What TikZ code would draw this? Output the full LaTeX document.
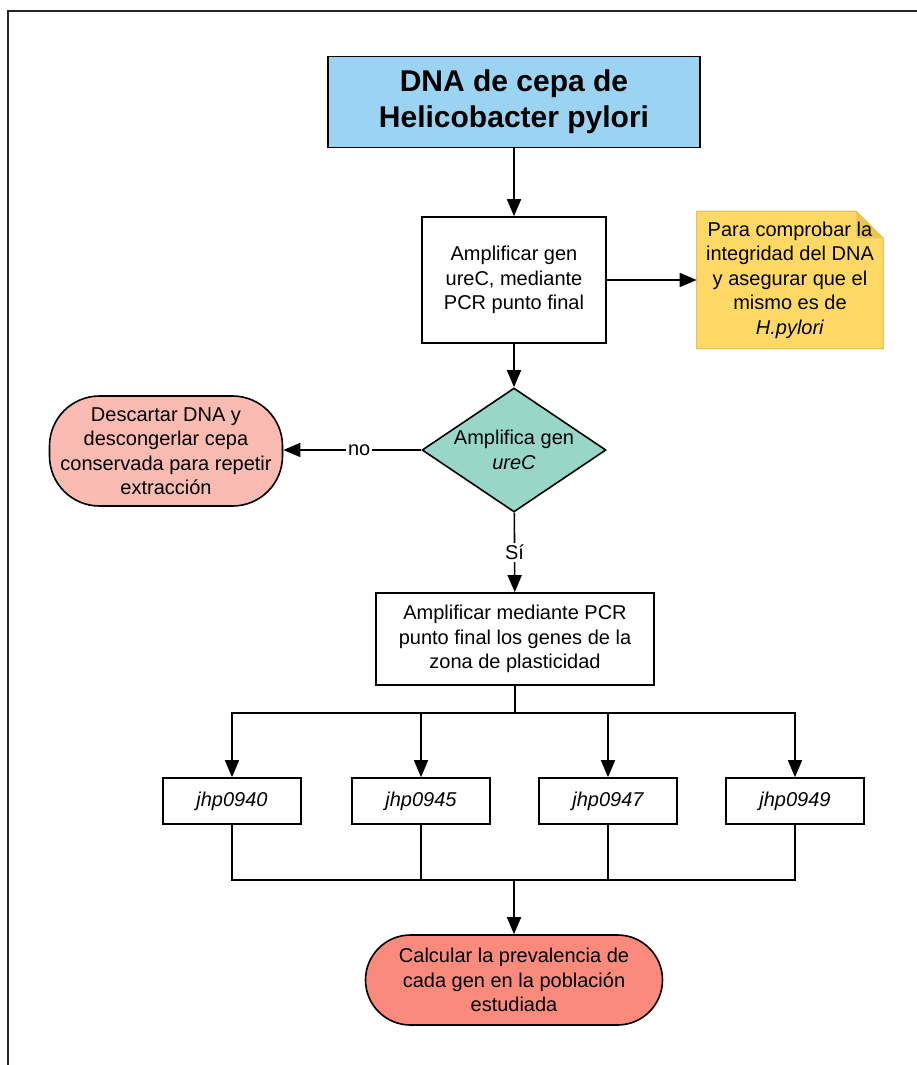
\documentclass[tikz,border=0pt]{standalone}
\usepackage{fontspec}
\setmainfont{Liberation Sans}
\usetikzlibrary{
arrows.meta,
shapes,
backgrounds,
calc
}
\definecolor{titleblue}{RGB}{155,211,242}
\definecolor{noteyellow}{RGB}{255,217,102}
\definecolor{noteline}{RGB}{228,196,98}
\definecolor{notefold}{RGB}{235,196,86}
\definecolor{decteal}{RGB}{152,214,199}
\definecolor{redolight}{RGB}{249,187,178}
\definecolor{redodark}{RGB}{250,138,124}

\begin{document}
\begin{tikzpicture}[
    x=1pt, y=-1pt,
    line width=1.6pt,
    >={Triangle[length=17pt,width=14pt]},
    every node/.style={font=\fontsize{20}{24.5}\selectfont, align=center},
    box/.style={draw, fill=white, inner sep=0pt},
    term/.style={draw, rectangle, inner sep=0pt},
    gene/.style={box, minimum width=138, minimum height=46, font=\fontsize{20}{24.5}\selectfont\itshape},
    lbl/.style={midway, fill=white, inner sep=2pt}
  ]
  \useasboundingbox (0,0) rectangle (917,1065);
  % page frame
  \draw[line width=2.2pt, black!85] (8,1065) -- (8,11) -- (917,11);

  \node[box, fill=titleblue, minimum width=372, minimum height=91,
    font=\fontsize{30}{36}\selectfont\bfseries] (dna) at (514,102)
    {DNA de cepa de\\Helicobacter pylori};
  \node[box, minimum width=184, minimum height=126] (ampl) at (514,280)
    {Amplificar gen\\ureC, mediante\\PCR punto final};
  \node[minimum width=185, minimum height=136, inner sep=0pt] (note) at (790,280)
    {Para comprobar la\\integridad del DNA\\y asegurar que el\\mismo es de\\\textit{H.pylori}};
  \node[diamond, draw, fill=decteal, minimum width=184, minimum height=124, inner sep=0pt,
    label={[name=decl]center:Amplifica gen\\\textit{ureC}}] (dec) at (514,450) {};
  \node[term, fill=redolight, rounded corners=50, minimum width=233, minimum height=110] (discard) at (166,451)
    {Descartar DNA y\\descongerlar cepa\\conservada para repetir\\extracción};
  \node[box, minimum width=278, minimum height=92] (plast) at (515,639)
    {Amplificar mediante PCR\\punto final los genes de la\\zona de plasticidad};

  \node[gene] (g40) at (232,801) {jhp0940};
  \node[gene] (g45) at (421,801) {jhp0945};
  \node[gene] (g47) at (608,801) {jhp0947};
  \node[gene] (g49) at (795,801) {jhp0949};
  \coordinate (join) at (514,880);

  \node[term, fill=redodark, rounded corners=45, minimum width=297, minimum height=90] (prev) at (514,980)
    {Calcular la prevalencia de\\cada gen en la población\\estudiada};

  % folded note
  \begin{scope}[on background layer]
    \filldraw[fill=noteyellow, draw=noteline, line width=1.2pt]
      (note.south west) -- (note.north west) -- ($(note.north east)+(-27,0)$)
      -- ($(note.north east)+(0,27)$) -- (note.south east) -- cycle;
    \fill[notefold] ($(note.north east)+(-27,0)$) -- ($(note.north east)+(-27,27)$)
      -- ($(note.north east)+(0,27)$) -- cycle;
  \end{scope}

  \draw[->] (dna) -- (ampl);
  \draw[->] (ampl) -- (note);
  \draw[->] (ampl) -- (dec);
  \draw[->] (dec.west) -- node[lbl, pos=0.45] {no} (discard.east |- dec.west);
  \draw[->] (dec) -- node[lbl] {Sí} (plast);
  \draw[->] (plast.south) -- ++(0,27) -| (g40);
  \draw[->] (plast.south) -- ++(0,27) -| (g45);
  \draw[->] (plast.south) -- ++(0,27) -| (g47);
  \draw[->] (plast.south) -- ++(0,27) -| (g49);
  \draw (g40) |- (join);
  \draw (g45) |- (join);
  \draw (g47) |- (join);
  \draw (g49) |- (join);
  \draw[->] (join) -- (prev);
\end{tikzpicture}
\end{document}
